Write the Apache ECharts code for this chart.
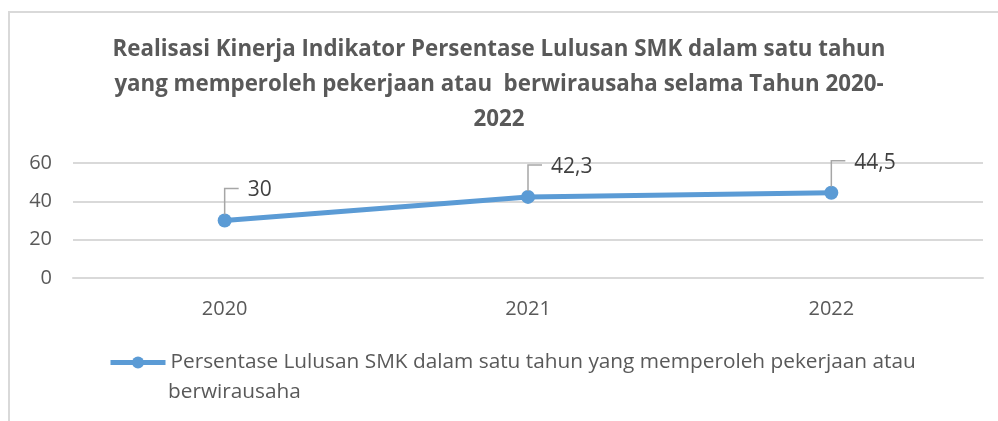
<!DOCTYPE html>
<html>
<head>
<meta charset="utf-8">
<script src="https://cdn.jsdelivr.net/npm/echarts@6/dist/echarts.min.js"></script>
<style>
    html, body {
        margin: 0;
        padding: 0;
        background: #fff;
    }

    #chart {
        width: 998px;
        height: 421px;
    }
</style>
</head>
<body>
<div id="chart"></div>
<script>
const titleLines = [
    "Realisasi Kinerja Indikator Persentase Lulusan SMK dalam satu tahun",
    "yang memperoleh pekerjaan atau  berwirausaha selama Tahun 2020-",
    "2022",
]
const years = ["2020", "2021", "2022"]
const realisasi = [30, 42.3, 44.5]
const seriesName = "Persentase Lulusan SMK dalam satu tahun yang memperoleh pekerjaan atau"
const legendWrap = "berwirausaha"

const color = "#5b9bd5"
const textColor = "#595959"
const font = "'Open Sans', sans-serif"

const chart = echarts.init(document.getElementById("chart"))

const option = {
    animation: false,
    textStyle: {
        fontFamily: font,
    },
    title: {
        text: titleLines.join("\n"),
        left: "center",
        top: 27,
        textStyle: {
            fontFamily: font,
            fontSize: 22.3,
            fontWeight: "bold",
            color: textColor,
            lineHeight: 35,
        },
    },
    graphic: [
        {
            type: "rect",
            shape: { x: 9, y: 12, width: 1000, height: 420 },
            style: { fill: "none", stroke: "#d9d9d9", lineWidth: 2 },
            silent: true,
        },
        {
            type: "text",
            left: 168,
            top: 382,
            style: {
                text: legendWrap,
                fontFamily: font,
                fontSize: 20.8,
                fill: textColor,
            },
            silent: true,
        },
    ],
    grid: {
        left: 73,
        right: 15,
        top: 163,
        bottom: 143,
    },
    legend: {
        left: 108,
        top: 352,
        padding: 0,
        itemWidth: 55,
        itemHeight: 15,
        itemGap: 4,
        lineStyle: { width: 5 },
        textStyle: {
            fontFamily: font,
            fontSize: 20.8,
            color: textColor,
        },
        data: [seriesName],
    },
    xAxis: {
        type: "category",
        data: years,
        axisLine: { lineStyle: { color: "#d9d9d9", width: 2 } },
        axisTick: { show: false },
        axisLabel: {
            color: textColor,
            fontSize: 20,
            margin: 21,
        },
    },
    yAxis: {
        type: "value",
        min: 0,
        max: 60,
        interval: 20,
        axisLabel: {
            color: textColor,
            fontSize: 20,
            margin: 21,
        },
        splitLine: { lineStyle: { color: "#d9d9d9", width: 2 } },
    },
    series: [
        {
            name: seriesName,
            type: "line",
            data: realisasi,
            symbol: "circle",
            symbolSize: 14,
            z: 3,
            lineStyle: { color: color, width: 5 },
            itemStyle: { color: color },
            label: {
                show: true,
                fontSize: 21,
                color: "#404040",
                formatter: (p) => String(p.value).replace(".", ","),
            },
            labelLayout: (p) => ({
                x: p.rect.x + p.rect.width / 2 + 23,
                y: p.rect.y + p.rect.height / 2 - 30,
                align: "left",
                verticalAlign: "middle",
            }),
        },
        {
            // leader lines from each point up to its label
            type: "custom",
            silent: true,
            z: 4,
            renderItem: (params, api) => {
                const pt = api.coord([api.value(0), api.value(1)])
                return {
                    type: "polyline",
                    shape: {
                        points: [
                            [pt[0], pt[1] - 6],
                            [pt[0], pt[1] - 32],
                            [pt[0] + 14, pt[1] - 32],
                        ],
                    },
                    style: { stroke: "#a6a6a6", lineWidth: 1.5, fill: null },
                }
            },
            encode: { x: 0, y: 1 },
            data: realisasi.map((v, i) => [i, v]),
        },
    ],
}

chart.setOption(option)
</script>
</body>
</html>
